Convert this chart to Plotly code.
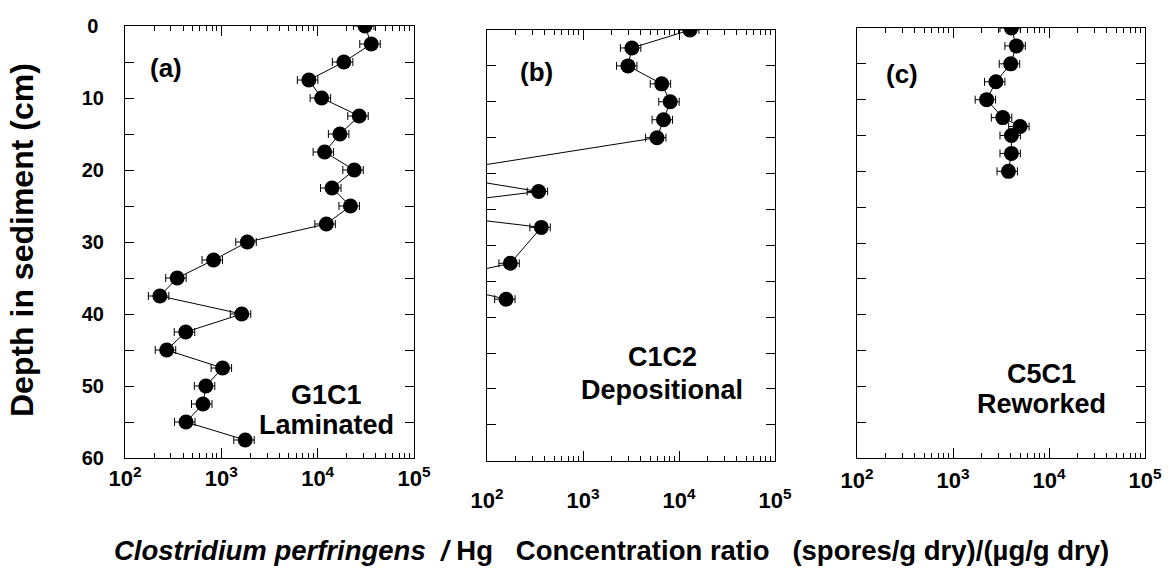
import plotly.graph_objects as go

W, H = 1171, 581

# ---------------- data ----------------
depth_a = [0, 2.5, 5, 7.5, 10, 12.5, 15, 17.5, 20, 22.5, 25, 27.5,
           30, 32.5, 35, 37.5, 40, 42.5, 45, 47.5, 50, 52.5, 55, 57.5]
conc_a = [31000, 36000, 18700, 8100, 11000, 27000, 17000, 11800, 24000, 14100, 21900, 12300,
          1860, 830, 348, 230, 1630, 427, 271, 1030, 690, 645, 430, 1770]

depth_b = [0, 2.5, 5, 7.5, 10, 12.5, 15, 20, 22.5, 25, 27.5, 32.5, 35, 37.5]
conc_b = [13000, 3230, 2940, 6600, 8100, 6900, 5900, 25, 345, 10, 368, 175, 25, 158]

depth_c = [0, 2.5, 5, 7.5, 10, 12.5, 13.75, 15, 17.5, 20]
conc_c = [4060, 4570, 3990, 2800, 2240, 3300, 5000, 4060, 4060, 3780]

error_percent = 24

x_tickvals = [1e2, 1e3, 1e4, 1e5]
x_ticktext = ["10<sup>2</sup>", "10<sup>3</sup>", "10<sup>4</sup>", "10<sup>5</sup>"]
y_tickvals = [0, 10, 20, 30, 40, 50, 60]
y_ticktext = ["0\u00a0", "10", "20", "30", "40", "50", "60"]

panel_labels = ["(a)", "(b)", "(c)"]
core_names = [("G1C1", "Laminated"), ("C1C2", "Depositional"), ("C5C1", "Reworked")]

FONT = "Liberation Sans, Arial, sans-serif"

# ---------------- layout geometry (pixels) ----------------
def px_x(p):
    return p / W

def px_y(p):
    return 1 - p / H

panels = [
    dict(x0=125, x1=414, y0=26, y1=458, standoff=1),
    dict(x0=487, x1=775, y0=30, y1=460.7, standoff=20),
    dict(x0=857, x1=1145, y0=28, y1=458, standoff=3),
]

minor_vals = [m * 10 ** e for e in range(2, 5) for m in range(2, 10)]

fig = go.Figure()
datasets = [(conc_a, depth_a), (conc_b, depth_b), (conc_c, depth_c)]
for i, (xs, ys) in enumerate(datasets):
    sfx = "" if i == 0 else str(i + 1)
    fig.add_trace(go.Scatter(
        x=xs, y=ys, mode="lines+markers",
        line=dict(color="black", width=1),
        marker=dict(size=15, color="black"),
        error_x=dict(type="percent", value=error_percent, color="black", thickness=1, width=4),
        xaxis="x" + sfx, yaxis="y" + sfx, showlegend=False,
    ))

layout = dict(
    width=W, height=H,
    margin=dict(l=0, r=0, t=0, b=0, autoexpand=False),
    paper_bgcolor="white", plot_bgcolor="white",
    font=dict(family=FONT, color="black"),
    showlegend=False,
)

for i, p in enumerate(panels):
    sfx = "" if i == 0 else str(i + 1)
    layout["xaxis" + sfx] = dict(
        type="log", range=[2, 5], automargin=False,
        domain=[px_x(p["x0"]), px_x(p["x1"])],
        anchor="y" + sfx,
        showline=True, linecolor="black", linewidth=1, mirror="allticks",
        showgrid=False, zeroline=False,
        tickmode="array", tickvals=x_tickvals, ticktext=x_ticktext,
        ticks="inside", ticklen=10, tickwidth=1, tickcolor="black",
        minor=dict(tickmode="array", tickvals=minor_vals, ticks="inside", ticklen=5,
                   tickwidth=1, tickcolor="black", showgrid=False),
        tickfont=dict(family=FONT, size=22, color="black", weight="bold"),
        ticklabelstandoff=p["standoff"],
    )
    layout["yaxis" + sfx] = dict(
        range=[60, 0], automargin=False,
        domain=[px_y(p["y1"]), px_y(p["y0"])],
        anchor="x" + sfx,
        showline=True, linecolor="black", linewidth=1, mirror="allticks",
        showgrid=False, zeroline=False,
        tickmode="array", tickvals=y_tickvals, ticktext=y_ticktext,
        ticks="inside", ticklen=9, tickwidth=1, tickcolor="black",
        minor=dict(dtick=5, ticks="inside", ticklen=9, tickwidth=1, tickcolor="black", showgrid=False),
        showticklabels=(i == 0),
        tickfont=dict(family=FONT, size=20, color="black", weight="bold"),
        ticklabelstandoff=16,
    )

fig.update_layout(**layout)

ann = []
label_pos = [(166, 68), (536, 72), (902, 74)]
for (lx, ly), txt in zip(label_pos, panel_labels):
    ann.append(dict(x=px_x(lx), y=px_y(ly), xref="paper", yref="paper", text=txt,
                    showarrow=False, xanchor="center", yanchor="middle",
                    font=dict(family=FONT, size=26, color="black", weight="bold")))

name_pos = [(326, 395, 425), (662, 357, 390), (1041, 374, 404)]
for (cx, y1, y2), (n1, n2) in zip(name_pos, core_names):
    for yy, t in ((y1, n1), (y2, n2)):
        ann.append(dict(x=px_x(cx), y=px_y(yy), xref="paper", yref="paper", text=t,
                        showarrow=False, xanchor="center", yanchor="middle",
                        font=dict(family=FONT, size=27, color="black", weight="bold")))

ann.append(dict(x=px_x(22), y=px_y(240), xref="paper", yref="paper",
                text="Depth in sediment (cm)", textangle=-90, showarrow=False,
                xanchor="center", yanchor="middle",
                font=dict(family=FONT, size=32, color="black", weight="bold")))

ann.append(dict(x=px_x(611), y=px_y(550), xref="paper", yref="paper",
                text="<i>Clostridium perfringens</i>\u00a0\u00a0<i>/</i> Hg\u00a0\u00a0\u00a0Concentration ratio"
                     "\u00a0\u00a0\u00a0(spores/g dry)/(µg/g dry)",
                showarrow=False, xanchor="center", yanchor="middle",
                font=dict(family=FONT, size=27.5, color="black", weight="bold")))

fig.update_layout(annotations=ann)
fig.write_html("out.html")
